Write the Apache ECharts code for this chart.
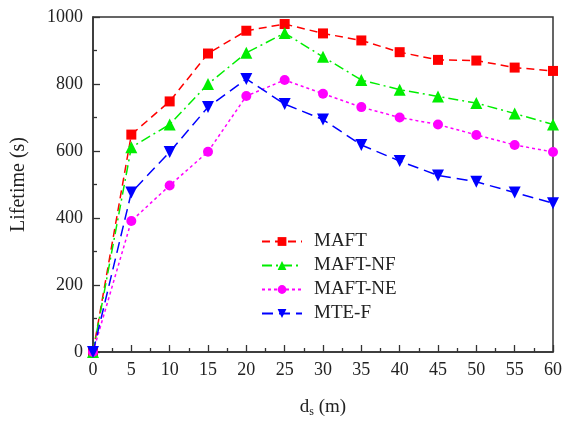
<!DOCTYPE html>
<html>
<head>
<meta charset="utf-8">
<script src="https://cdn.jsdelivr.net/npm/echarts@6/dist/echarts.min.js"></script>
<style>
  html, body { margin: 0; padding: 0; background: #fff; }
  #chart { width: 565px; height: 423px; }
</style>
</head>
<body>
<div id="chart"></div>
<script>
const distances = [0, 5, 10, 15, 20, 25, 30, 35, 40, 45, 50, 55, 60];
const maft = [0, 649, 748, 891, 959, 979, 951, 930, 895, 872, 870, 849, 839];
const maftNF = [0, 611, 679, 800, 893, 952, 881, 812, 783, 763, 743, 712, 679];
const maftNE = [0, 391, 497, 598, 764, 812, 771, 731, 700, 679, 648, 618, 597];
const mteF = [0, 476, 597, 731, 815, 740, 694, 618, 570, 527, 508, 476, 444];

const font = "Liberation Serif";

function pairs(ys) {
  return distances.map((x, i) => [x, ys[i]]);
}

function makeSeries(name, ys, color, dash, symbol, size, rotate) {
  return {
    name: name,
    type: "line",
    data: pairs(ys),
    symbol: symbol,
    symbolSize: size,
    symbolRotate: rotate || 0,
    showAllSymbol: true,
    itemStyle: { color: color },
    lineStyle: { color: color, width: 1.5, type: dash },
    emphasis: { disabled: true },
  };
}

const chart = echarts.init(document.getElementById("chart"));

chart.setOption({
  animation: false,
  grid: {
    left: 93,
    right: 10,
    top: 17,
    bottom: 66,
    show: true,
    borderColor: "#333",
    borderWidth: 1.5,
    backgroundColor: "transparent",
  },
  legend: {
    left: 256,
    top: 227,
    orient: "vertical",
    itemWidth: 40,
    itemHeight: 11,
    itemGap: 5,
    textStyle: { fontFamily: font, fontSize: 19, lineHeight: 18, color: "#222", padding: [0, 0, 0, 7] },
    data: ["MAFT", "MAFT-NF", "MAFT-NE", "MTE-F"],
  },
  xAxis: {
    type: "value",
    min: 0,
    max: 60,
    interval: 5,
    name: "{d|d}{s|s}{d| (m)}",
    nameLocation: "middle",
    nameGap: 45,
    nameTextStyle: {
      rich: {
        d: { fontFamily: font, fontSize: 19, color: "#222" },
        s: { fontFamily: font, fontSize: 12, color: "#222", verticalAlign: "bottom", padding: [9, 0, 0, 0] },
      },
    },
    axisLine: { lineStyle: { color: "#333", width: 1.5 } },
    axisTick: { inside: true, length: 7, lineStyle: { color: "#333", width: 1.3 } },
    minorTick: { show: true, splitNumber: 2, length: 4, lineStyle: { color: "#333", width: 1.3 } },
    axisLabel: { fontFamily: font, fontSize: 18, color: "#222", margin: 9 },
    splitLine: { show: false },
  },
  yAxis: {
    type: "value",
    min: 0,
    max: 1000,
    interval: 200,
    name: "Lifetime (s)",
    nameLocation: "middle",
    nameGap: 64,
    nameTextStyle: { fontFamily: font, fontSize: 20, color: "#222" },
    axisLine: { show: true, lineStyle: { color: "#333", width: 1.5 } },
    axisTick: { show: true, inside: true, length: 7, lineStyle: { color: "#333", width: 1.3 } },
    minorTick: { show: true, splitNumber: 2, length: 4, lineStyle: { color: "#333", width: 1.3 } },
    axisLabel: { fontFamily: font, fontSize: 18, color: "#222", margin: 10, formatter: (v) => String(v) },
    splitLine: { show: false },
  },
  series: [
    makeSeries("MAFT", maft, "#ff0000", [8, 5], "rect", 10),
    makeSeries("MAFT-NF", maftNF, "#00ee00", [10, 4, 2, 4], "triangle", 12),
    makeSeries("MAFT-NE", maftNE, "#ff00ff", [3, 3], "circle", 10),
    makeSeries("MTE-F", mteF, "#0000ff", [11, 6], "triangle", 12, 180),
  ],
});
</script>
</body>
</html>
